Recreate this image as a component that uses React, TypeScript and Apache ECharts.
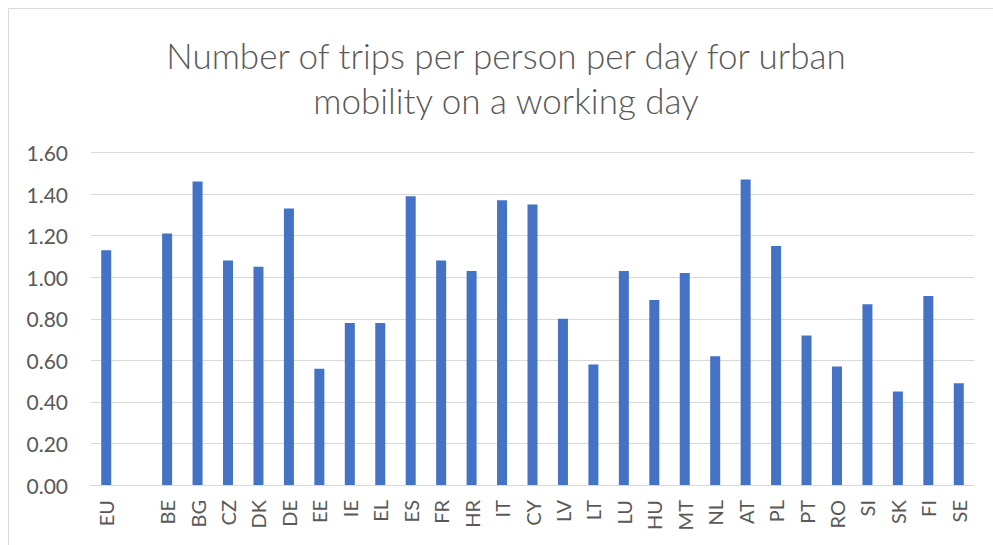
import React, { useEffect, useRef } from "react";
import * as echarts from "echarts";

const titleLines = [
  "Number of trips per person per day for urban",
  "mobility on a working day",
];
const categories = [
  "EU", "", "BE", "BG", "CZ", "DK", "DE", "EE", "IE", "EL", "ES", "FR", "HR", "IT",
  "CY", "LV", "LT", "LU", "HU", "MT", "NL", "AT", "PL", "PT", "RO", "SI", "SK", "FI", "SE",
];
const values: (number | null)[] = [
  1.13, null, 1.21, 1.46, 1.08, 1.05, 1.33, 0.56, 0.78, 0.78, 1.39, 1.08, 1.03, 1.37,
  1.35, 0.8, 0.58, 1.03, 0.89, 1.02, 0.62, 1.47, 1.15, 0.72, 0.57, 0.87, 0.45, 0.91, 0.49,
];
const yMin = 0;
const yMax = 1.6;
const yStep = 0.2;

export default function App() {
  const ref = useRef<HTMLDivElement>(null);
  useEffect(() => {
    if (!ref.current) return;
    const chart = echarts.init(ref.current, null, { renderer: "svg" });
    const font = "Lato, 'Open Sans', sans-serif";
    chart.setOption({
      animation: false,
      backgroundColor: "#ffffff",
      graphic: [
        {
          type: "rect",
          shape: { x: 8.5, y: 8.5, width: 1100, height: 700 },
          style: { fill: "none", stroke: "#d9d9d9", lineWidth: 1 },
          silent: true,
        },
        {
          type: "text",
          x: 506,
          y: 77,
          style: {
            text: titleLines.join("\n"),
            fill: "#595959",
            font: `300 35px ${font}`,
            align: "center",
            verticalAlign: "middle",
            lineHeight: 45,
          },
        },
      ],
      grid: { left: 91, right: 19, top: 152.5, bottom: 60, containLabel: false },
      xAxis: {
        type: "category",
        data: categories,
        axisTick: { show: false },
        axisLine: { lineStyle: { color: "#d9d9d9", width: 1 } },
        axisLabel: {
          rotate: 90,
          interval: 0,
          margin: 15,
          color: "#595959",
          fontSize: 20,
          fontFamily: font,
        },
      },
      yAxis: {
        type: "value",
        min: yMin,
        max: yMax,
        interval: yStep,
        axisLine: { show: false },
        axisTick: { show: false },
        splitLine: { lineStyle: { color: "#d9d9d9", width: 1 } },
        axisLabel: {
          margin: 23,
          color: "#595959",
          fontSize: 21,
          fontFamily: font,
          formatter: (v: number) => v.toFixed(2),
        },
      },
      series: [
        {
          type: "bar",
          data: values,
          barWidth: 10,
          itemStyle: { color: "#4472C4" },
        },
      ],
    });
    return () => chart.dispose();
  }, []);
  return (
    <div
      ref={ref}
      style={{ position: "fixed", left: 0, top: 0, width: 993, height: 545 }}
    />
  );
}
